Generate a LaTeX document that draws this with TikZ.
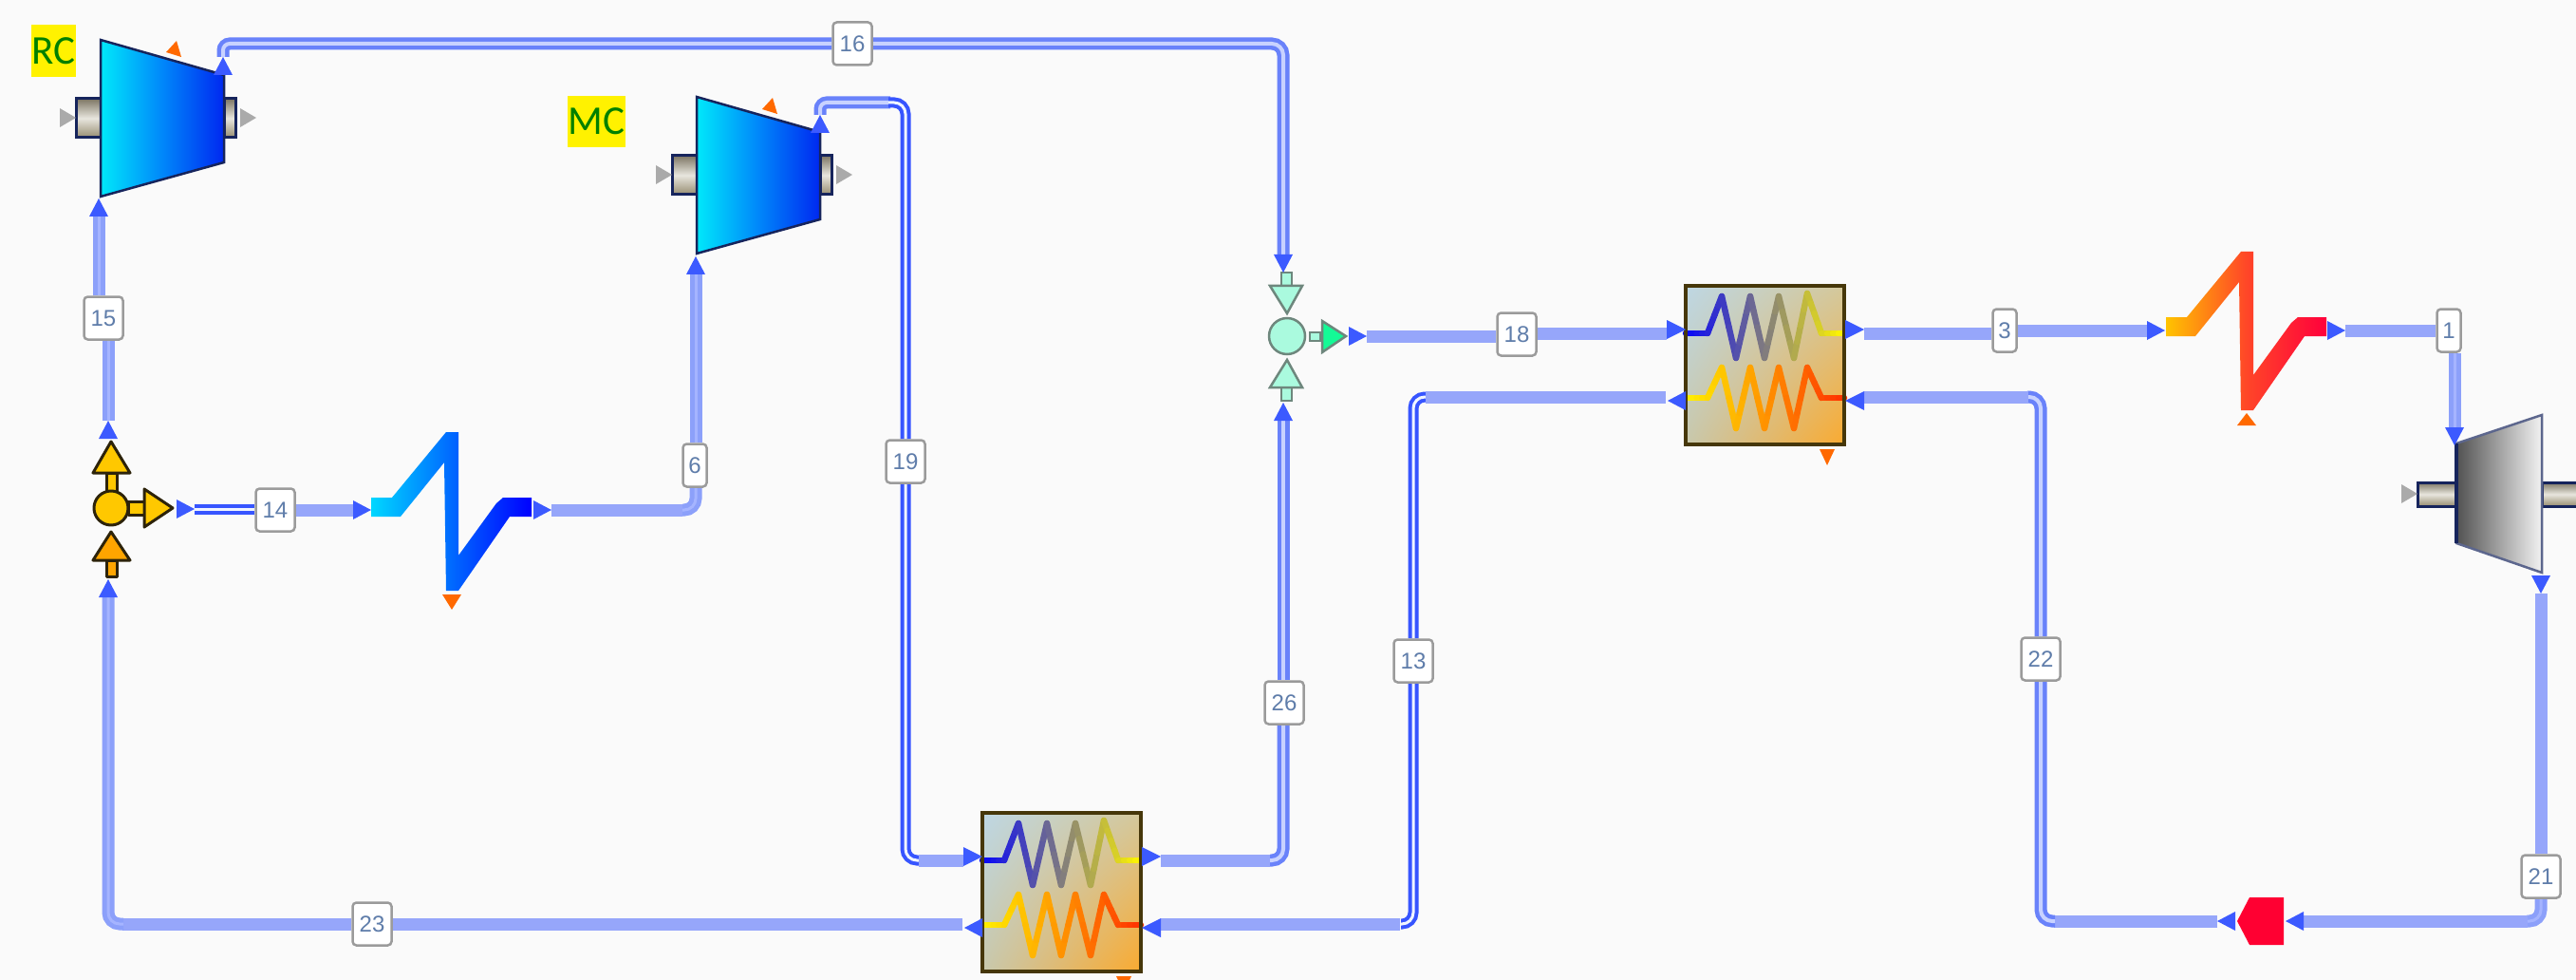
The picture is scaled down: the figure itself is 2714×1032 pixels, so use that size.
\documentclass[tikz,border=0pt]{standalone}
\usepackage{fontspec}
\usetikzlibrary{shadings}
\newfontfamily\labfont{Liberation Sans}
\newfontfamily\tagfont{Carlito}
\pgfdeclarelayer{back}\pgfdeclarelayer{streams}\pgfsetlayers{back,streams,main}
\definecolor{pagebg}{RGB}{250,250,250}
\definecolor{tipblue}{RGB}{60,90,255}
\definecolor{bandblue}{RGB}{150,166,250}
\definecolor{labtext}{RGB}{95,125,170}
\definecolor{labedge}{RGB}{155,155,155}
\definecolor{edgenavy}{RGB}{22,36,92}
\definecolor{tagtext}{RGB}{0,128,0}
\definecolor{shaftA}{RGB}{125,118,100}
\definecolor{shaftB}{RGB}{232,230,222}
\definecolor{shaftC}{RGB}{150,140,112}
\definecolor{greytip}{RGB}{170,170,170}
\definecolor{orangetip}{RGB}{255,105,0}
\definecolor{compA}{RGB}{0,232,250}
\definecolor{compB}{RGB}{0,135,250}
\definecolor{compC}{RGB}{0,40,240}
\definecolor{coilblue}{RGB}{0,0,255}
\definecolor{coilyellow}{RGB}{255,245,0}
\definecolor{coilred}{RGB}{255,50,0}
\definecolor{hxframe}{RGB}{70,55,10}
\definecolor{hxA}{RGB}{190,215,228}
\definecolor{hxB}{RGB}{212,200,155}
\definecolor{hxC}{RGB}{200,200,172}
\definecolor{hxD}{RGB}{250,170,48}
\definecolor{hone}{RGB}{0,215,255}
\definecolor{htwo}{RGB}{0,105,255}
\definecolor{hthree}{RGB}{0,0,255}
\definecolor{hfour}{RGB}{255,195,0}
\definecolor{hfive}{RGB}{255,70,40}
\definecolor{hsix}{RGB}{255,0,60}
\definecolor{splitedge}{RGB}{45,35,10}
\definecolor{splitfill}{RGB}{255,200,0}
\definecolor{splitlow}{RGB}{255,165,0}
\definecolor{mixfill}{RGB}{170,250,222}
\definecolor{mixedge}{RGB}{110,135,125}
\definecolor{mixout}{RGB}{20,250,150}
\definecolor{valvered}{RGB}{255,0,50}
\definecolor{lineA}{RGB}{55,85,255}
\definecolor{gapA}{RGB}{240,245,255}
\definecolor{lineB}{RGB}{105,130,250}
\definecolor{gapB}{RGB}{200,210,255}
\definecolor{lineC}{RGB}{140,160,250}
\definecolor{gapC}{RGB}{165,180,255}
\tikzset{
  band/.style={draw=bandblue,line width=13pt},
  dblA/.style={draw=lineA,double=gapA,line width=4pt,double distance=3pt,rounded corners=12pt},
  dblB/.style={draw=lineB,double=gapB,line width=4.5pt,double distance=4pt,rounded corners=12pt},
  dblC/.style={draw=lineC,double=gapC,line width=5pt,double distance=3pt,rounded corners=12pt},
  lab/.style={draw=labedge,fill=white,line width=2.5pt,rounded corners=4pt,inner sep=0pt,
    minimum height=45pt,text=labtext,font=\labfont\fontsize{24}{24}\selectfont},
  labwide/.style={lab,minimum width=41pt},
  labthin/.style={lab,minimum width=25pt},
  tagbox/.style={fill=yellow,inner sep=0pt,text=tagtext,font=\tagfont\fontsize{43}{43}\selectfont},
  tipfill/.style={fill=tipblue},
  coilline/.style={line width=6.5pt,line cap=round},
  shaft/.style={top color=shaftA,bottom color=shaftC,middle color=shaftB,draw=edgenavy,line width=3pt},
  splitpart/.style={draw=splitedge,line width=3pt,line join=round,fill=splitfill},
  splitlowpart/.style={splitpart,fill=splitlow},
  mixpart/.style={draw=mixedge,line width=2.5pt,fill=mixfill}
}
% arrow whose base sits on the named port, and arrow whose apex sits on it
\newcommand\tipin[4]{\coordinate (#1) at (#2,#3);
  \fill[tipfill,shift={(#1)},rotate=#4] (0,-10)--(19,0)--(0,10)--cycle;}
\newcommand\tipout[4]{\coordinate (#1) at (#2,#3);
  \fill[tipfill,shift={(#1)},rotate=#4] (-19,-10)--(0,0)--(-19,10)--cycle;}
\newcommand\coil[4]{%
  \foreach \x/\y [remember=\x as \lx (initially 0),remember=\y as \ly (initially #1)] in {#4}{
    \foreach \k in {0,1,2,3}{
      \pgfmathsetmacro\ax{\lx+(\x-\lx)*\k/4}
      \pgfmathsetmacro\ay{\ly+(\y-\ly)*\k/4}
      \pgfmathsetmacro\bx{\lx+(\x-\lx)*(\k+1)/4}
      \pgfmathsetmacro\by{\ly+(\y-\ly)*(\k+1)/4}
      \pgfmathsetmacro\pct{max(0,min(100,100-(\ax+\bx)/3.34))}
      \draw[coilline,color=#2!\pct!#3] (\ax,\ay)--(\bx,\by);
    }}}
\newcommand\hxunit[3]{%
  \begin{scope}[shift={(#2,#3)}]
    \shade[upper left=hxA,upper right=hxB,lower left=hxC,lower right=hxD] (0,0) rectangle (167,167);
    \coil{50}{coilblue}{coilyellow}{23/50,38/11,53/76,68/11,83/76,98/11,114/76,128/8,143/50,167/50}
    \coil{118}{coilyellow}{coilred}{23/118,38/86,53/150,68/86,83/150,98/86,114/150,128/86,143/118,167/118}
    \draw[hxframe,line width=4pt] (0,0) rectangle (167,167);
    \coordinate (#1TI) at (-20,50);
    \coordinate (#1TO) at (188,50);
    \coordinate (#1LO) at (-21,117);
    \coordinate (#1LI) at (188,117);
    \fill[tipfill] (-20,36)--(0,46)--(-20,56)--cycle;
    \fill[tipfill] (168,36)--(188,46)--(168,56)--cycle;
    \fill[tipfill] (0,111)--(-19,121)--(0,131)--cycle;
    \fill[tipfill] (188,111)--(168,121)--(188,131)--cycle;
    \fill[orangetip] (141,172)--(157,172)--(149,189)--cycle;
  \end{scope}}
\newcommand\compressor[3]{%
  \begin{scope}[shift={(#2,#3)}]
    \draw[shaft] (80,104) rectangle (106,145);
    \draw[shaft] (236,104) rectangle (248,145);
    \shade[left color=compA,right color=compC,middle color=compB] (106,42)--(236,79)--(236,171)--(106,207)--cycle;
    \draw[edgenavy,line width=2.5pt,line join=miter] (106,42)--(236,79)--(236,171)--(106,207)--cycle;
    \fill[greytip] (63,114)--(80,124)--(63,134)--cycle;
    \fill[greytip] (253,114)--(270,124)--(253,134)--cycle;
    \fill[orangetip] (175,55)--(186,43)--(191,60)--cycle;
  \end{scope}}
\newcommand\heater[6]{%
  \begin{scope}[shift={(#1,#2)}]
    \shade[left color=#3,right color=#5,middle color=#4]
      (391,524)--(413,524)--(470,455)--(483,455)--(483,585)--(523,530)--(530,524)--(560,524)--
      (560,544)--(537,544)--(483,622)--(470,622)--(468,487)--(422,544)--(391,544)--cycle;
    #6
  \end{scope}}
\begin{document}
\begin{tikzpicture}[x=1pt,y=-1pt]
\useasboundingbox (0,0) rectangle (2714,1032);
\begin{pgfonlayer}{back}
  \fill[pagebg] (0,0) rectangle (2714,1032);
\end{pgfonlayer}

% compressors
\compressor{RC}{0}{0}
\compressor{MC}{628}{60}
\node[tagbox,minimum width=47pt,minimum height=55pt] (tagRC) at (56.5,53.5) {RC};
\node[tagbox,minimum width=61pt,minimum height=54pt] (tagMC) at (628.5,128) {MC};

% splitter
\draw[splitpart] (112,498) rectangle (123,517);
\draw[splitlowpart] (112,590) rectangle (123,607);
\draw[splitpart] (135,528) rectangle (153,542);
\draw[splitpart] (117,465)--(137,498)--(98,498)--cycle;
\draw[splitlowpart] (117,560)--(137,590)--(98,590)--cycle;
\draw[splitpart] (152,515)--(182,535)--(152,555)--cycle;
\draw[splitpart] (117,535) circle (18);

% mixer
\draw[mixpart] (1350,287) rectangle (1361,301);
\draw[mixpart] (1350,408) rectangle (1361,422);
\draw[mixpart] (1380,350) rectangle (1391,359);
\draw[mixpart] (1338,301)--(1372,301)--(1356,330)--cycle;
\draw[mixpart] (1338,408)--(1372,408)--(1356,379)--cycle;
\draw[mixpart,fill=mixout] (1393,338)--(1418,354)--(1393,371)--cycle;
\draw[mixpart] (1356,354) circle (19);

% heaters
\heater{0}{0}{hone}{htwo}{hthree}{\fill[orangetip] (466,626)--(486,626)--(476,642)--cycle;}
\heater{1891}{-190}{hfour}{hfive}{hsix}{\fill[orangetip] (466,638)--(486,638)--(476,625)--cycle;}

% heat exchangers
\hxunit{hxL}{1035}{856}
\hxunit{hxU}{1776}{301}

% turbine
\draw[shaft] (2547,508) rectangle (2588,533);
\draw[shaft] (2678,508) rectangle (2716,533);
\shade[left color=black!68,right color=black!5] (2588,467)--(2678,437)--(2678,603)--(2588,572)--cycle;
\draw[edgenavy!70,line width=2.5pt] (2588,467)--(2678,437)--(2678,603)--(2588,572)--cycle;
\draw[edgenavy,line width=3.5pt] (2588,467)--(2588,572);
\fill[greytip] (2530,510)--(2547,520)--(2530,530)--cycle;

% valve
\fill[valvered] (2406,945)--(2406,995)--(2370,995)--(2357,970)--(2370,945)--cycle;
\coordinate (vlvL) at (2336,970);
\coordinate (vlvR) at (2427,970);
\fill[tipfill] (2355,960)--(2336,970)--(2355,980)--cycle;
\fill[tipfill] (2427,960)--(2408,970)--(2427,980)--cycle;

% stream ports
\tipout{sp15}{114}{443}{90}
\tipin{rcIn}{104}{228}{90}
\tipin{spIn}{114}{629}{90}
\tipout{sp14}{205}{536}{0}
\tipin{hOneIn}{372}{537}{0}
\tipout{hOneOut}{581}{537}{0}
\tipin{mcIn}{733}{289}{90}
\tipout{mcOut}{864}{121}{90}
\tipout{rcOut}{235}{60}{90}
\tipin{mixT}{1352}{268}{-90}
\tipin{mixB}{1352}{443}{90}
\tipout{mixOut}{1440}{354}{0}
\tipin{hTwoIn}{2262}{348}{0}
\tipout{hTwoOut}{2471}{348}{0}
\tipin{tbIn}{2586}{450}{-90}
\tipout{tbOut}{2677}{625}{-90}

% stream labels
\node[labwide] (L15) at (109,335) {15};
\node[labwide] (L16) at (898,46) {16};
\node[labwide] (L14) at (290,537) {14};
\node[labthin] (L6) at (732,490) {6};
\node[labwide] (L19) at (954,486) {19};
\node[labwide] (L18) at (1598,352) {18};
\node[labwide] (L26) at (1353,740) {26};
\node[labwide] (L13) at (1489,696) {13};
\node[labthin] (L3) at (2112,348) {3};
\node[labthin] (L1) at (2580,348) {1};
\node[labwide] (L22) at (2150,694) {22};
\node[labwide] (L21) at (2677,923) {21};
\node[labwide] (L23) at (392,973) {23};

\begin{pgfonlayer}{streams}
  % 15
  \draw[dblC] (sp15) -- (sp15 |- L15.south);
  \draw[dblC] (rcIn |- L15.north) -- (rcIn);
  % 16
  \draw[dblB,rounded corners=7pt] (rcOut) -- (rcOut |- L16.west) -- (L16.west);
  \draw[dblB] (L16.east) -- (mixT |- L16.east) -- (mixT);
  % 14
  \draw[dblA] (sp14) -- (L14.west |- sp14);
  \draw[band] (L14.east) -- (hOneIn);
  % 6
  \draw[band] (hOneOut) -- (719,537);
  \draw[dblC] (719,537) -- (mcIn |- hOneOut) -- (mcIn |- L6.south);
  \draw[dblC] (mcIn |- L6.north) -- (mcIn);
  % 19
  \draw[dblB,rounded corners=7pt] (mcOut) -- (864,108) -- (938,108);
  \draw[dblA] (936,108) -- (954,108) -- (L19.north);
  \draw[dblA] (L19.south) -- (954,906) -- (968,906);
  \draw[band] (968,906) -- (hxLTI);
  % 26
  \draw[band] (hxLTO) -- (1338,906);
  \draw[dblB] (1338,906) -- (mixB |- hxLTO) -- (mixB |- L26.south);
  \draw[dblB] (mixB |- L26.north) -- (mixB);
  % 18
  \draw[band] (mixOut) -- (L18.west |- mixOut);
  \draw[band] (L18.east |- hxUTI) -- (hxUTI);
  % 3
  \draw[band] (hxUTO) -- (L3.west |- hxUTO);
  \draw[band] (L3.east) -- (hTwoIn);
  % 1
  \draw[band] (hTwoOut) -- (L1.west);
  \draw[dblC] (tbIn |- L1.south) -- (tbIn);
  % 21
  \draw[band] (tbOut) -- (L21.north);
  \draw[dblC] (L21.south) -- (2677,970) -- (2662,970);
  \draw[band] (2663,970) -- (vlvR);
  % 22
  \draw[band] (vlvL) -- (2164,970);
  \draw[dblB] (2165,970) -- (2150,970) -- (L22.south);
  \draw[dblB] (L22.north) -- (2150,418) -- (2136,418);
  \draw[band] (2137,418) -- (hxULI);
  % 13
  \draw[band] (hxLLI) -- (1475,973);
  \draw[dblA] (1476,973) -- (1489,973) -- (L13.south);
  \draw[dblA] (L13.north) -- (1489,418) -- (1503,418);
  \draw[band] (1502,418) -- (hxULO);
  % 23
  \draw[band] (hxLLO) -- (L23.east);
  \draw[band] (L23.west) -- (129,973);
  \draw[dblC] (130,973) -- (114,973) -- (spIn);
\end{pgfonlayer}
\end{tikzpicture}
\end{document}
